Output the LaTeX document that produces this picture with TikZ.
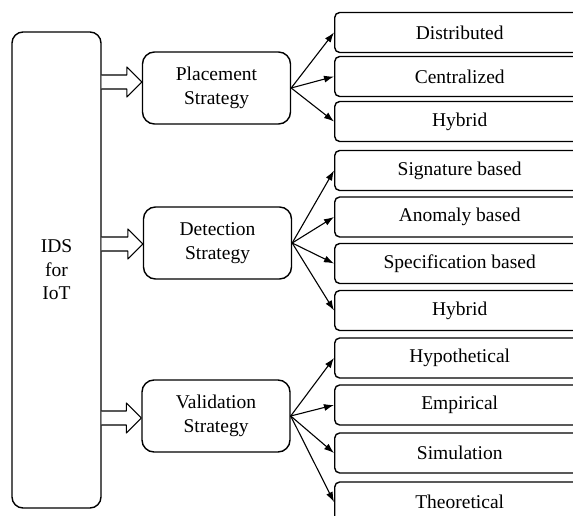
\documentclass[tikz,border=0pt]{standalone}
\usepackage{fontspec}
\setmainfont{Liberation Serif}
\usetikzlibrary{arrows.meta, calc, positioning}

\newcommand{\fatarrow}[2]{%
  \coordinate (tip) at ($(#1.west)+(0,#2)$);
  \draw[line width=1.1pt,fill=white] ($(ids.east |- tip)+(0,-7)$) -- ($(tip)+(-15,-7)$)
    -- ($(tip)+(-15,-15)$) -- (tip) -- ($(tip)+(-15,15)$) -- ($(tip)+(-15,7)$)
    -- ($(ids.east |- tip)+(0,7)$);}

\begin{document}
\begin{tikzpicture}[line cap=round,line join=round,x=1pt,y=-1pt,
  every node/.style={font=\fontsize{19.5}{23.5}\selectfont},
  idsbox/.style={draw,line width=1.4pt,rounded corners=11pt,minimum width=89pt,minimum height=476pt,align=center},
  stratbox/.style={draw,line width=1.4pt,rounded corners=12pt,minimum width=148pt,minimum height=72pt,align=center},
  itembox/.style={draw,line width=1.4pt,rounded corners=5pt,minimum width=250pt,minimum height=40pt,anchor=west},
  branch/.style={-{Latex[length=10pt,width=7pt]},line width=1.1pt}]
\useasboundingbox (0,0) rectangle (573,516);
\clip (0,0) rectangle (573,516);

\node[idsbox] (ids) at (56.5,270) {IDS\\for\\IoT};

\node[stratbox] (place) at (216.5,88) {Placement\\Strategy};
\node[stratbox] (detect) at (217.5,243) {Detection\\Strategy};
\node[stratbox] (valid) at (216,416) {Validation\\Strategy};

\fatarrow{place}{-6}
\fatarrow{detect}{1}
\fatarrow{valid}{2}

% right column
\foreach \n/\y/\t in {dist/32.5/Distributed, cent/76.5/Centralized, hyba/121.5/Hybrid,
  sig/170.5/Signature based, anom/217/Anomaly based, spec/263.5/Specification based, hybb/310.5/Hybrid,
  hypo/358/Hypothetical, emp/405/Empirical, sim/453/Simulation, theo/502/Theoretical}
  \node[itembox] (\n) at (334,\y) {\t};

\foreach \n in {dist,cent,hyba}
  \draw[branch] (place.east) -- (\n.west);
\foreach \n in {sig,anom,spec,hybb}
  \draw[branch] (detect.east) -- (\n.west);
\foreach \n in {hypo,emp,sim,theo}
  \draw[branch] (valid.east) -- (\n.west);

\end{tikzpicture}
\end{document}
